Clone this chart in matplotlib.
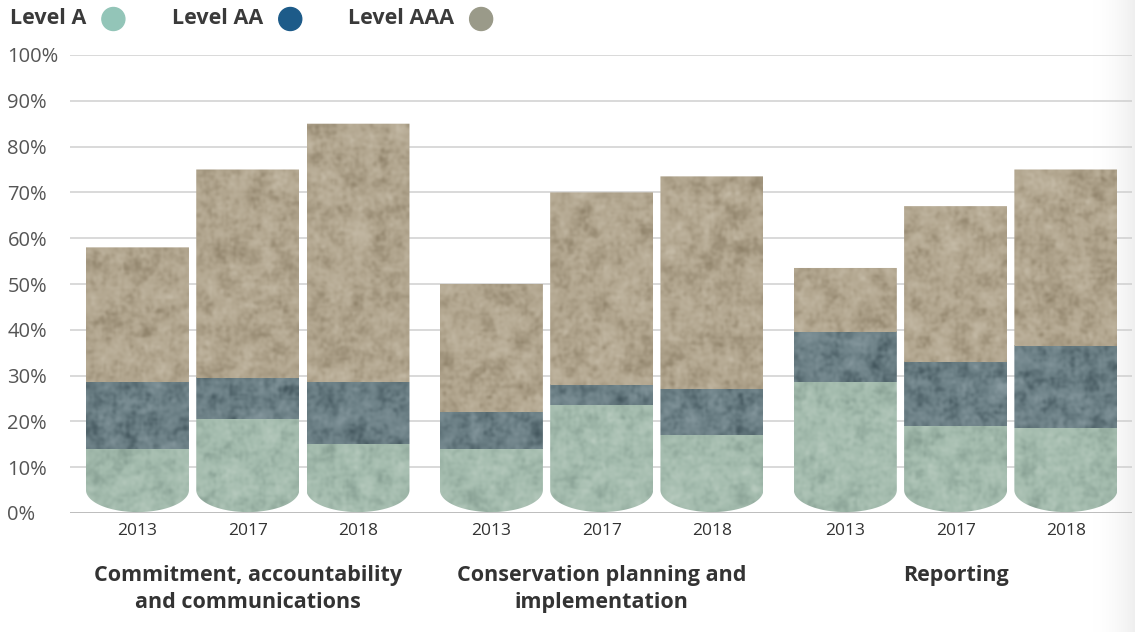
#!/usr/bin/env python3
"""Stacked cylinder bars: share of sites at each conservation level, by theme and year."""

import numpy as np
import matplotlib
matplotlib.use("Agg")
import matplotlib.pyplot as plt
from matplotlib.path import Path
from matplotlib.patches import PathPatch, Ellipse
from matplotlib.colors import LinearSegmentedColormap

plt.rcParams["font.family"] = ["Open Sans", "DejaVu Sans"]

groups = ["Commitment, accountability\nand communications",
          "Conservation planning and\nimplementation",
          "Reporting"]
years = ["2013", "2017", "2018"]

# percent of sites, per bar (group-major order)
level_a = [14.0, 20.5, 15.0, 14.0, 23.5, 17.0, 28.5, 19.0, 18.5]
level_aa = [14.5, 9.0, 13.5, 8.0, 4.5, 10.0, 11.0, 14.0, 18.0]
level_aaa = [29.5, 45.5, 56.5, 28.0, 42.0, 46.5, 14.0, 34.0, 38.5]

legend_labels = ["Level A", "Level AA", "Level AAA"]
legend_colors = ["#93c5b8", "#1d5b89", "#9a9a89"]

# (dark, mid, light) stone tones for each level
tones = [("#869e92", "#a4bcae", "#b8cbbf"),
         ("#40535a", "#6c8086", "#889aa0"),
         ("#8e8169", "#b2a68f", "#c6bca8")]

W, H = 1135, 632
fig = plt.figure(figsize=(W / 100, H / 100), dpi=100)
fig.patch.set_facecolor("white")

# faint page shadow on the right edge
shade = fig.add_axes([1092 / W, 0, 43 / W, 1], zorder=-5)
grad = np.linspace(0, 1, 64)[None, :] ** 1.8
shade.imshow(grad, aspect="auto", extent=[0, 1, 0, 1],
             cmap=LinearSegmentedColormap.from_list("sh", ["#ffffff", "#efefef"]))
shade.axis("off")

ax = fig.add_axes([70 / W, 1 - 513 / H, (1132 - 70) / W, (513 - 55) / H])
ax.patch.set_alpha(0)

gap = 0.21
width = 0.934
pos = [g * (3 + gap) + i for g in range(len(groups)) for i in range(len(years))]

# grid
for v in range(10, 101, 10):
    ax.axhline(v, color="#cfcfcf", lw=1.1, zorder=0)
ax.axhline(0, color="#b8b8b8", lw=1.3, zorder=0)

rng = np.random.default_rng(7)


def smooth(a, k):
    ker = np.ones(k) / k
    a = np.apply_along_axis(lambda r: np.convolve(r, ker, mode="same"), 1, a)
    return np.apply_along_axis(lambda c: np.convolve(c, ker, mode="same"), 0, a)


def stone(h, w):
    coarse = smooth(rng.normal(size=(h, w)), 7)
    fine = smooth(rng.normal(size=(h, w)), 2)
    t = coarse / (coarse.std() + 1e-9) * 0.55 + fine / (fine.std() + 1e-9) * 0.45
    return np.clip(t, -2.5, 2.5)


def cylinder(xc, top, w, depth):
    x0, x1 = xc - w / 2, xc + w / 2
    th = np.linspace(np.pi, 2 * np.pi, 60)
    ex = xc + (w / 2) * np.cos(th)
    ey = depth + depth * np.sin(th) + 0.2
    verts = [(x0, top)] + list(zip(ex, ey)) + [(x1, top), (x0, top)]
    codes = [Path.MOVETO] + [Path.LINETO] * (len(verts) - 2) + [Path.CLOSEPOLY]
    return Path(verts, codes)


depth = 4.8
for k, x in enumerate(pos):
    segs = [level_a[k], level_aa[k], level_aaa[k]]
    total = sum(segs)
    clip = PathPatch(cylinder(x, total, width, depth), facecolor="none",
                     edgecolor="none", transform=ax.transData)
    ax.add_patch(clip)
    lo = 0.0
    for s, val in enumerate(segs):
        hi = lo + val
        rows = max(int(val * 4.6 / 2), 4)
        cm = LinearSegmentedColormap.from_list("t%d" % s, list(tones[s]))
        im = ax.imshow(stone(rows, 52), cmap=cm, vmin=-2.4, vmax=2.4,
                       extent=[x - width / 2, x + width / 2, lo, hi],
                       aspect="auto", interpolation="bicubic", zorder=2)
        im.set_clip_path(clip)
        lo = hi

ax.set_xlim(-0.612, pos[-1] + 0.6)
ax.set_ylim(0, 100)

for s in ax.spines.values():
    s.set_visible(False)

ax.set_yticks(range(0, 101, 10))
ax.set_yticklabels(["%d%%" % v for v in range(0, 101, 10)],
                   fontsize=14.5, color="#555555")
for lab in ax.get_yticklabels():
    lab.set_horizontalalignment("left")
ax.tick_params(axis="y", length=0, pad=45)

ax.set_xticks(pos)
ax.set_xticklabels(years * len(groups), fontsize=12.5, color="#333333")
ax.tick_params(axis="x", length=0, pad=7)

for g, name in enumerate(groups):
    xc = pos[g * 3 + 1]
    ax.text(xc, -11.4, name, ha="center", va="top", fontsize=15.5,
            fontweight="bold", color="#333333", linespacing=1.35,
            transform=ax.transData, clip_on=False)

# legend row across the top
lx = [10, 172, 348]
for lab, x0 in zip(legend_labels, lx):
    fig.text(x0 / W, 1 - 18 / H, lab, ha="left", va="center",
             fontsize=15.5, fontweight="bold", color="#3a3a3a")
fig.canvas.draw()
r = fig.canvas.get_renderer()
for t, col in zip(fig.texts, legend_colors):
    bb = t.get_window_extent(r)
    cx = bb.x1 + 27
    fig.add_artist(Ellipse((cx / W, 1 - 19 / H), 23 / W, 23 / H, color=col,
                           transform=fig.transFigure))

fig.savefig("out.png", dpi=100, facecolor="white")
